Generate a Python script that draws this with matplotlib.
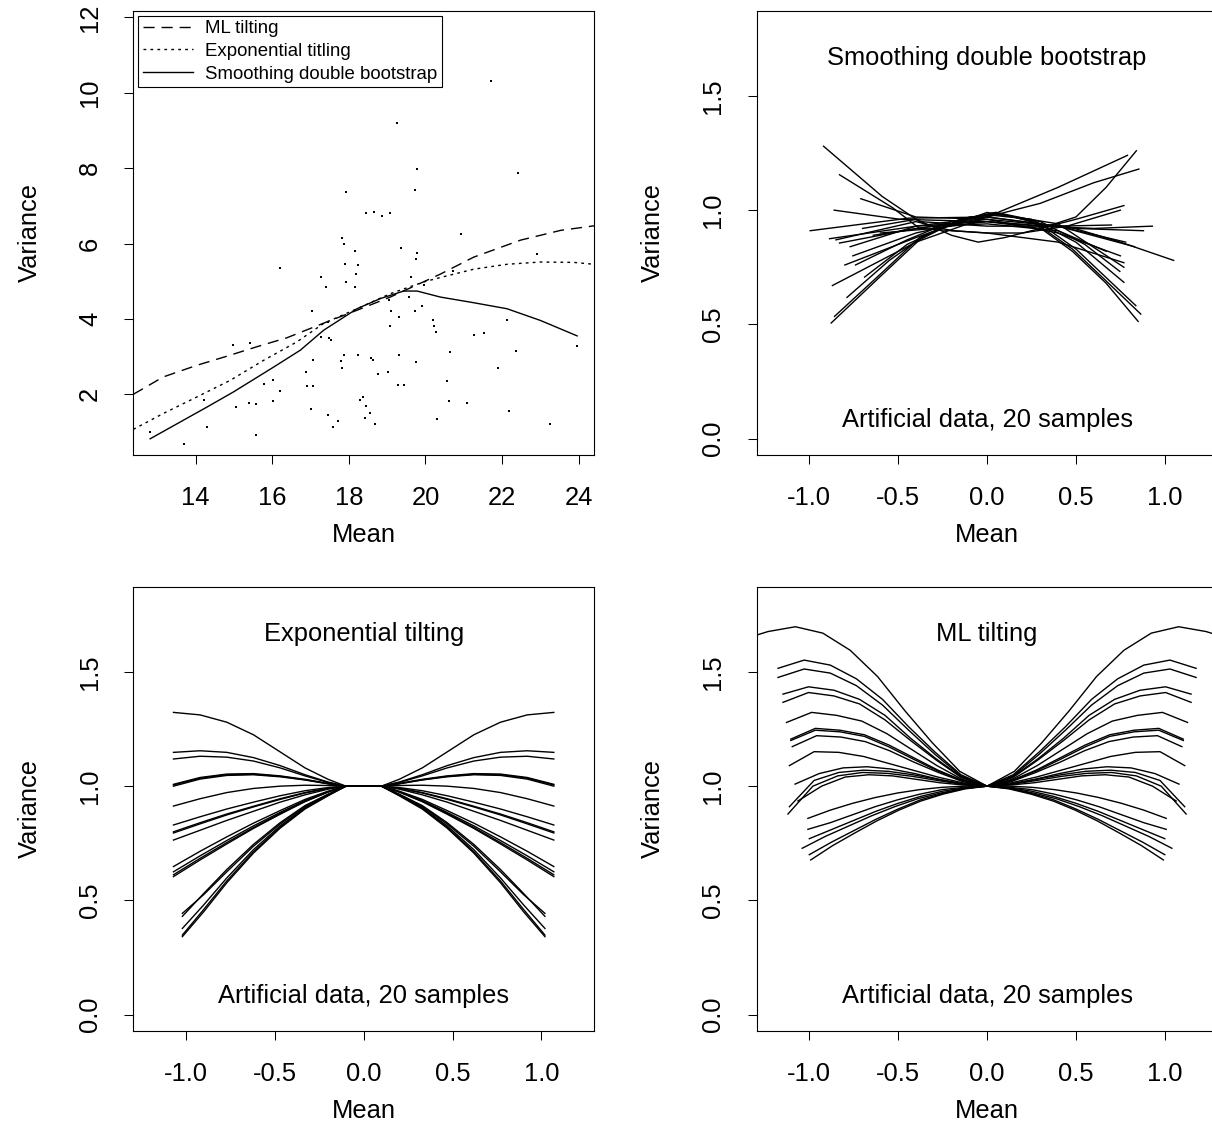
import matplotlib
matplotlib.use("Agg")
import matplotlib.pyplot as plt

plt.rcParams['font.family'] = ['Liberation Sans', 'DejaVu Sans']
plt.rcParams['axes.unicode_minus'] = False

FS = 18.4

# ---- top left: observed (mean, variance) pairs ----
pt_mean = [19.26, 19.78, 19.72, 17.92, 18.44, 18.65, 18.87, 19.08, 17.82, 17.87, 18.16, 19.37, 19.78, 19.76,
           21.72, 22.42, 20.94, 22.90,
           16.19, 14.97, 15.43, 15.77, 16.01, 16.19, 14.22, 15.04, 15.38, 15.58, 16.02, 14.30, 12.81, 13.69, 15.58,
           17.90, 18.24, 18.18, 17.28, 17.92, 17.41, 18.16, 19.63, 19.95, 19.57, 19.05, 19.91, 19.09, 19.72, 17.04,
           19.32, 19.08, 17.46, 17.28, 17.47, 17.53, 17.06, 16.88, 16.90, 17.07, 17.00, 17.45, 17.71, 17.59, 17.87,
           17.79, 17.82, 18.24, 18.58, 18.63, 18.75, 19.01, 19.30, 19.75, 19.27, 19.44, 18.28, 18.36, 18.45, 18.56,
           18.43, 18.69, 20.30, 20.55, 20.61, 20.65, 20.27, 20.23, 20.20,
           20.73, 22.13, 21.27, 21.52, 22.37, 21.89, 21.09, 22.17, 23.26, 23.96]
pt_var = [9.21, 7.99, 7.41, 7.38, 6.80, 6.84, 6.72, 6.80, 6.16, 6.00, 5.79, 5.89, 5.76, 5.58,
          10.30, 7.86, 6.25, 5.72,
          5.36, 3.31, 3.37, 2.28, 2.39, 2.10, 1.86, 1.67, 1.78, 1.75, 1.81, 1.14, 1.01, 0.69, 0.93,
          5.46, 5.43, 5.20, 5.10, 4.99, 4.86, 4.86, 5.10, 4.91, 4.58, 4.51, 4.35, 4.22, 4.20, 4.20,
          4.04, 3.82, 3.93, 3.52, 3.49, 3.45, 2.92, 2.58, 2.23, 2.23, 1.62, 1.46, 1.28, 1.14, 3.05,
          2.89, 2.71, 3.03, 2.97, 2.92, 2.55, 2.60, 3.05, 2.87, 2.26, 2.26, 1.86, 1.94, 1.70, 1.51,
          1.38, 1.22, 1.35, 2.36, 1.81, 3.13, 3.66, 3.82, 3.98,
          5.26, 3.98, 3.58, 3.62, 3.16, 2.71, 1.78, 1.57, 1.20, 3.27]

ml_mean = [12.37, 13.15, 14.03, 14.81, 15.59, 16.38, 17.42, 18.21, 19.08, 20.39, 21.26, 22.48, 23.53, 24.40]
ml_var = [2.00, 2.46, 2.77, 3.01, 3.26, 3.50, 3.92, 4.23, 4.58, 5.19, 5.64, 6.09, 6.35, 6.47]

et_mean = [12.37, 13.15, 14.03, 14.90, 15.77, 16.64, 17.34, 18.21, 19.08, 19.95, 20.39, 21.26, 22.13, 23.00, 23.87, 24.40]
et_var = [1.07, 1.49, 1.93, 2.37, 2.90, 3.39, 3.88, 4.27, 4.67, 4.98, 5.10, 5.32, 5.45, 5.51, 5.50, 5.45]

sdb_mean = [12.81, 14.29, 14.98, 16.03, 16.73, 17.34, 18.21, 18.82, 19.43, 19.78, 20.39, 21.26, 22.13, 23.00, 23.96]
sdb_var = [0.82, 1.66, 2.06, 2.72, 3.17, 3.70, 4.27, 4.54, 4.74, 4.74, 4.58, 4.43, 4.27, 3.96, 3.55]

# ---- top right: smoothing double bootstrap curves (mean, variance) ----
sdb_curves_x = [
    [-0.92, -0.59, -0.38, 0.0, 0.45, 0.75, 1.05],
    [-0.83, -0.53, -0.38, 0.0, 0.4, 0.77],
    [-0.71, -0.4, 0.0, 0.4, 0.78],
    [-0.86, -0.49, 0.0, 0.5, 0.88],
    [-0.995, -0.44, 0.0, 0.4, 0.83],
    [-0.7, -0.4, -0.2, -0.05, 0.1, 0.3, 0.5, 0.77],
    [-0.85, -0.4, -0.2, 0.0, 0.2, 0.45, 0.75],
    [-0.87, -0.4, 0.0, 0.4, 0.79],
    [-0.755, -0.4, 0.0, 0.3, 0.6, 0.854],
    [-0.77, -0.4, 0.0, 0.3, 0.5, 0.67, 0.84],
    [-0.886, -0.4, 0.0, 0.4, 0.70],
    [-0.83, -0.4, 0.0, 0.4, 0.75],
    [-0.64, -0.3, 0.0, 0.4, 0.67],
    [-0.8, -0.4, 0.0, 0.4, 0.77],
    [-0.6, -0.3, 0.0, 0.3, 0.6, 0.93],
    [-0.877, -0.6, -0.38, -0.15, 0.05, 0.25, 0.48, 0.67, 0.85],
    [-0.858, -0.6, -0.38, -0.15, 0.05, 0.25, 0.48, 0.67, 0.865],
    [-0.788, -0.55, -0.35, -0.1, 0.1, 0.3, 0.5, 0.837],
    [-0.689, -0.45, -0.2, 0.0, 0.25, 0.5, 0.77],
    [-0.74, -0.45, -0.2, 0.05, 0.3, 0.55, 0.747],
]
sdb_curves_y = [
    [1.28, 1.06, 0.95, 0.93, 0.93, 0.86, 0.78],
    [1.155, 1.01, 0.92, 0.90, 0.86, 0.77],
    [1.05, 0.97, 0.96, 0.93, 0.86],
    [1.0, 0.96, 0.95, 0.92, 0.91],
    [0.91, 0.965, 0.97, 0.93, 0.84],
    [0.92, 0.96, 0.89, 0.86, 0.88, 0.92, 0.96, 1.02],
    [0.87, 0.95, 0.91, 0.90, 0.90, 0.93, 1.0],
    [0.67, 0.86, 0.97, 1.10, 1.24],
    [0.80, 0.90, 0.97, 1.03, 1.12, 1.18],
    [0.84, 0.93, 0.95, 0.92, 0.97, 1.10, 1.26],
    [0.875, 0.93, 0.97, 0.93, 0.935],
    [0.856, 0.92, 0.96, 0.90, 0.80],
    [0.89, 0.93, 0.94, 0.91, 0.82],
    [0.76, 0.88, 0.99, 0.94, 0.75],
    [0.90, 0.92, 0.95, 0.93, 0.92, 0.93],
    [0.506, 0.71, 0.87, 0.96, 0.99, 0.95, 0.82, 0.68, 0.513],
    [0.535, 0.72, 0.88, 0.96, 0.985, 0.955, 0.83, 0.69, 0.545],
    [0.618, 0.78, 0.89, 0.97, 0.98, 0.94, 0.83, 0.582],
    [0.707, 0.85, 0.94, 0.98, 0.96, 0.86, 0.684],
    [0.76, 0.87, 0.95, 0.99, 0.95, 0.85, 0.732],
]

# ---- bottom left: exponential tilting curves ----
exp_x_wide = [-1.07, -0.92, -0.77, -0.62, -0.47, -0.33, -0.2, -0.1,
              0.1, 0.2, 0.33, 0.47, 0.62, 0.77, 0.92, 1.07]
exp_x_narrow = [-1.02, -0.9, -0.77, -0.62, -0.47, -0.33, -0.2, -0.1,
                0.1, 0.2, 0.33, 0.47, 0.62, 0.77, 0.9, 1.02]
exp_wide_y = [
    [1.323, 1.312, 1.28, 1.225, 1.15, 1.08, 1.03, 1.0, 1.0, 1.03, 1.08, 1.15, 1.225, 1.28, 1.312, 1.323],
    [1.148, 1.155, 1.148, 1.125, 1.09, 1.05, 1.018, 1.0, 1.0, 1.018, 1.05, 1.09, 1.125, 1.148, 1.155, 1.148],
    [1.119, 1.131, 1.127, 1.11, 1.08, 1.045, 1.016, 1.0, 1.0, 1.016, 1.045, 1.08, 1.11, 1.127, 1.131, 1.119],
    [1.008, 1.038, 1.053, 1.055, 1.045, 1.03, 1.012, 1.0, 1.0, 1.012, 1.03, 1.045, 1.055, 1.053, 1.038, 1.008],
    [1.005, 1.035, 1.05, 1.052, 1.043, 1.028, 1.011, 1.0, 1.0, 1.011, 1.028, 1.043, 1.052, 1.05, 1.035, 1.005],
    [1.0, 1.031, 1.047, 1.05, 1.041, 1.027, 1.01, 1.0, 1.0, 1.01, 1.027, 1.041, 1.05, 1.047, 1.031, 1.0],
    [0.913, 0.945, 0.972, 0.99, 1.0, 1.004, 1.003, 1.0, 1.0, 1.003, 1.004, 1.0, 0.99, 0.972, 0.945, 0.913],
    [0.83, 0.866, 0.9, 0.93, 0.958, 0.98, 0.994, 1.0, 1.0, 0.994, 0.98, 0.958, 0.93, 0.9, 0.866, 0.83],
    [0.80, 0.84, 0.878, 0.912, 0.945, 0.972, 0.991, 1.0, 1.0, 0.991, 0.972, 0.945, 0.912, 0.878, 0.84, 0.80],
    [0.795, 0.835, 0.874, 0.909, 0.942, 0.97, 0.99, 1.0, 1.0, 0.99, 0.97, 0.942, 0.909, 0.874, 0.835, 0.795],
    [0.764, 0.807, 0.85, 0.89, 0.93, 0.962, 0.987, 1.0, 1.0, 0.987, 0.962, 0.93, 0.89, 0.85, 0.807, 0.764],
    [0.648, 0.715, 0.778, 0.838, 0.893, 0.942, 0.978, 1.0, 1.0, 0.978, 0.942, 0.893, 0.838, 0.778, 0.715, 0.648],
    [0.625, 0.695, 0.762, 0.826, 0.885, 0.937, 0.976, 1.0, 1.0, 0.976, 0.937, 0.885, 0.826, 0.762, 0.695, 0.625],
    [0.612, 0.684, 0.753, 0.819, 0.88, 0.934, 0.975, 1.0, 1.0, 0.975, 0.934, 0.88, 0.819, 0.753, 0.684, 0.612],
    [0.604, 0.677, 0.747, 0.815, 0.877, 0.932, 0.974, 1.0, 1.0, 0.974, 0.932, 0.877, 0.815, 0.747, 0.677, 0.604],
]
exp_narrow_y = [
    [0.43, 0.53, 0.635, 0.745, 0.84, 0.915, 0.965, 1.0, 1.0, 0.965, 0.915, 0.84, 0.745, 0.635, 0.53, 0.43],
    [0.443, 0.525, 0.625, 0.737, 0.834, 0.911, 0.963, 1.0, 1.0, 0.963, 0.911, 0.834, 0.737, 0.625, 0.525, 0.443],
    [0.377, 0.48, 0.598, 0.722, 0.826, 0.906, 0.961, 1.0, 1.0, 0.961, 0.906, 0.826, 0.722, 0.598, 0.48, 0.377],
    [0.348, 0.46, 0.585, 0.713, 0.82, 0.903, 0.96, 1.0, 1.0, 0.96, 0.903, 0.82, 0.713, 0.585, 0.46, 0.348],
    [0.341, 0.45, 0.577, 0.707, 0.816, 0.9, 0.958, 1.0, 1.0, 0.958, 0.9, 0.816, 0.707, 0.577, 0.45, 0.341],
]

# ---- bottom right: ML tilting curves, values at k*step for k = -n..n ----
ml_step = [0.154, 0.147, 0.147, 0.1435, 0.1435, 0.141, 0.138, 0.138, 0.137, 0.139,
           0.135, 0.139, 0.14, 0.126, 0.126, 0.125, 0.13, 0.125, 0.124, 0.133]
ml_curves = [
    [1.64, 1.677, 1.698, 1.67, 1.595, 1.48, 1.33, 1.19, 1.065, 1.0, 1.065, 1.19, 1.33, 1.48, 1.595, 1.67, 1.698, 1.677, 1.64],
    [1.516, 1.552, 1.53, 1.47, 1.38, 1.26, 1.15, 1.05, 1.0, 1.05, 1.15, 1.26, 1.38, 1.47, 1.53, 1.552, 1.516],
    [1.476, 1.513, 1.495, 1.44, 1.355, 1.245, 1.14, 1.045, 1.0, 1.045, 1.14, 1.245, 1.355, 1.44, 1.495, 1.513, 1.476],
    [1.403, 1.435, 1.42, 1.38, 1.31, 1.21, 1.12, 1.04, 1.0, 1.04, 1.12, 1.21, 1.31, 1.38, 1.42, 1.435, 1.403],
    [1.367, 1.41, 1.395, 1.36, 1.29, 1.2, 1.115, 1.037, 1.0, 1.037, 1.115, 1.2, 1.29, 1.36, 1.395, 1.41, 1.367],
    [1.279, 1.323, 1.31, 1.285, 1.23, 1.16, 1.09, 1.03, 1.0, 1.03, 1.09, 1.16, 1.23, 1.285, 1.31, 1.323, 1.279],
    [1.206, 1.253, 1.245, 1.225, 1.18, 1.125, 1.07, 1.025, 1.0, 1.025, 1.07, 1.125, 1.18, 1.225, 1.245, 1.253, 1.206],
    [1.20, 1.245, 1.238, 1.218, 1.172, 1.118, 1.066, 1.024, 1.0, 1.024, 1.066, 1.118, 1.172, 1.218, 1.238, 1.245, 1.20],
    [1.173, 1.221, 1.215, 1.195, 1.155, 1.105, 1.06, 1.02, 1.0, 1.02, 1.06, 1.105, 1.155, 1.195, 1.215, 1.221, 1.173],
    [1.09, 1.151, 1.148, 1.13, 1.10, 1.07, 1.04, 1.015, 1.0, 1.015, 1.04, 1.07, 1.10, 1.13, 1.148, 1.151, 1.09],
    [1.009, 1.055, 1.08, 1.085, 1.075, 1.055, 1.03, 1.01, 1.0, 1.01, 1.03, 1.055, 1.075, 1.085, 1.08, 1.055, 1.009],
    [0.91, 1.025, 1.06, 1.07, 1.065, 1.05, 1.03, 1.01, 1.0, 1.01, 1.03, 1.05, 1.065, 1.07, 1.06, 1.025, 0.91],
    [0.878, 1.0, 1.045, 1.06, 1.056, 1.043, 1.025, 1.008, 1.0, 1.008, 1.025, 1.043, 1.056, 1.06, 1.045, 1.0, 0.878],
    [0.859, 0.895, 0.925, 0.95, 0.97, 0.985, 0.995, 1.0, 1.0, 1.0, 0.995, 0.985, 0.97, 0.95, 0.925, 0.895, 0.859],
    [0.811, 0.84, 0.875, 0.91, 0.94, 0.965, 0.985, 0.995, 1.0, 0.995, 0.985, 0.965, 0.94, 0.91, 0.875, 0.84, 0.811],
    [0.77, 0.81, 0.85, 0.89, 0.925, 0.955, 0.978, 0.993, 1.0, 0.993, 0.978, 0.955, 0.925, 0.89, 0.85, 0.81, 0.77],
    [0.728, 0.78, 0.825, 0.87, 0.91, 0.945, 0.97, 0.99, 1.0, 0.99, 0.97, 0.945, 0.91, 0.87, 0.825, 0.78, 0.728],
    [0.70, 0.755, 0.805, 0.855, 0.90, 0.94, 0.968, 0.99, 1.0, 0.99, 0.968, 0.94, 0.90, 0.855, 0.805, 0.755, 0.70],
    [0.677, 0.74, 0.795, 0.848, 0.895, 0.935, 0.965, 0.988, 1.0, 0.988, 0.965, 0.935, 0.895, 0.848, 0.795, 0.74, 0.677],
    [0.935, 1.0, 1.04, 1.05, 1.045, 1.03, 1.015, 1.005, 1.0, 1.005, 1.015, 1.03, 1.045, 1.05, 1.04, 1.0, 0.935],
]

sim_xticks = [-1.0, -0.5, 0.0, 0.5, 1.0]
sim_xticklabels = ['-1.0', '-0.5', '0.0', '0.5', '1.0']
sim_yticks = [0.0, 0.5, 1.0, 1.5]
sim_yticklabels = ['0.0', '0.5', '1.0', '1.5']


def r_style(ax, xlim, ylim, xt, xtl, yt, ytl):
    ax.set_xlim(*xlim)
    ax.set_ylim(*ylim)
    ax.set_xticks(xt)
    ax.set_xticklabels(xtl)
    ax.set_yticks(yt)
    ax.set_yticklabels(ytl, rotation=90, va='center')
    ax.tick_params(direction='out', length=6.7, width=0.75, labelsize=FS, pad=15.8, colors='black')
    for s in ax.spines.values():
        s.set_linewidth(0.8)
        s.set_color('black')
    ax.set_xlabel('Mean', fontsize=FS)
    ax.set_ylabel('Variance', fontsize=FS)
    ax.xaxis.set_label_coords(0.5, -0.154)
    ax.yaxis.set_label_coords(-0.199, 0.5)


fig = plt.figure(figsize=(12.12, 11.24), dpi=100)
W, H = 1212.0, 1124.0
aw, ah = 460.7 / W, 444.0 / H
ax1 = fig.add_axes([133.3 / W, 1 - 455 / H, aw, ah])
ax2 = fig.add_axes([756.7 / W, 1 - 455 / H, aw, ah])
ax3 = fig.add_axes([133.3 / W, 1 - 1031 / H, aw, ah])
ax4 = fig.add_axes([756.7 / W, 1 - 1031 / H, aw, ah])

# top left
ax1.plot(pt_mean, pt_var, ls='none', marker='s', ms=2.0, mew=0, color='black')
ax1.plot(ml_mean, ml_var, color='black', lw=1.0, dashes=(8, 5), label='ML tilting')
ax1.plot(et_mean, et_var, color='black', lw=1.0, dashes=(2, 3), label='Exponential titling')
ax1.plot(sdb_mean, sdb_var, color='black', lw=1.0, label='Smoothing double bootstrap')
r_style(ax1, (12.37, 24.40), (0.39, 12.17), [14, 16, 18, 20, 22, 24],
        ['14', '16', '18', '20', '22', '24'], [2, 4, 6, 8, 10, 12], ['2', '4', '6', '8', '10', '12'])
leg = ax1.legend(loc='upper left', bbox_to_anchor=(0.0, 1.0), fontsize=13.4, frameon=True,
                 fancybox=False, framealpha=1, edgecolor='black', handlelength=2.7,
                 handletextpad=0.66, labelspacing=0.3, borderpad=0.25, borderaxespad=0.25)
leg.get_frame().set_linewidth(0.8)

sim_xlim = (-1.296, 1.296)
sim_ylim = (-0.072, 1.872)

# top right
for xs, ys in zip(sdb_curves_x, sdb_curves_y):
    ax2.plot(xs, ys, color='black', lw=1.0)
r_style(ax2, sim_xlim, sim_ylim, sim_xticks, sim_xticklabels, sim_yticks, sim_yticklabels)
ax2.text(0, 1.635, 'Smoothing double bootstrap', ha='center', va='baseline', fontsize=FS)
ax2.text(0, 0.049, 'Artificial data, 20 samples', ha='center', va='baseline', fontsize=FS)

# bottom left
for ys in exp_wide_y:
    ax3.plot(exp_x_wide, ys, color='black', lw=1.0)
for ys in exp_narrow_y:
    ax3.plot(exp_x_narrow, ys, color='black', lw=1.0)
r_style(ax3, sim_xlim, sim_ylim, sim_xticks, sim_xticklabels, sim_yticks, sim_yticklabels)
ax3.text(0, 1.635, 'Exponential tilting', ha='center', va='baseline', fontsize=FS)
ax3.text(0, 0.049, 'Artificial data, 20 samples', ha='center', va='baseline', fontsize=FS)

# bottom right
for h, ys in zip(ml_step, ml_curves):
    n = (len(ys) - 1) // 2
    xs = [k * h for k in range(-n, n + 1)]
    ax4.plot(xs, ys, color='black', lw=1.0)
r_style(ax4, sim_xlim, sim_ylim, sim_xticks, sim_xticklabels, sim_yticks, sim_yticklabels)
ax4.text(0, 1.635, 'ML tilting', ha='center', va='baseline', fontsize=FS)
ax4.text(0, 0.049, 'Artificial data, 20 samples', ha='center', va='baseline', fontsize=FS)

fig.savefig('out.png', dpi=100)
